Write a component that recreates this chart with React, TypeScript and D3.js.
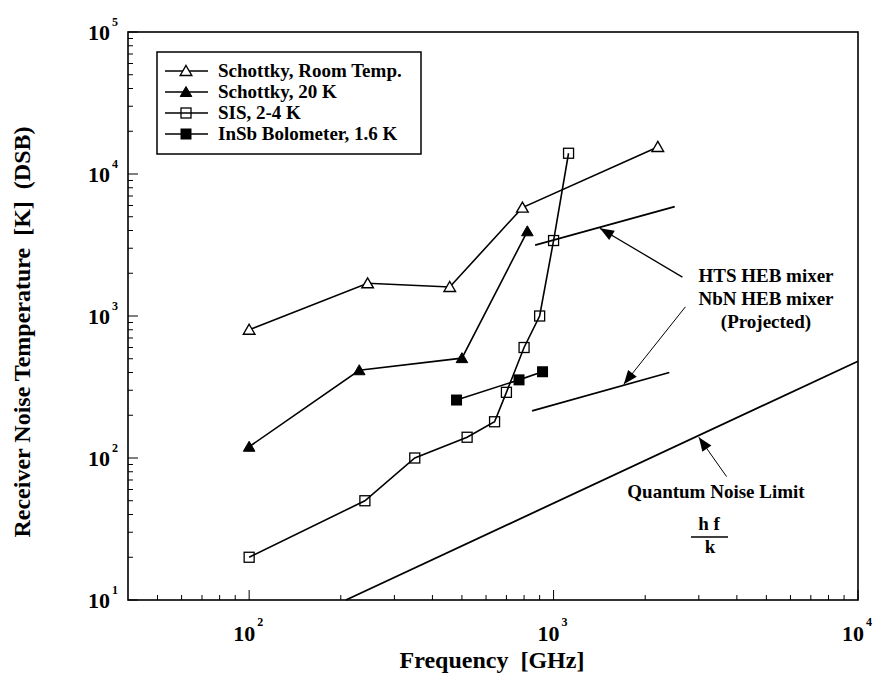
import React from 'react';
import * as d3 from 'd3';

// Schottky, room temperature (open triangles)
const roomF = [100, 245, 456, 790, 2200];
const roomT = [800, 1700, 1600, 5800, 15500];
// Schottky, 20 K (filled triangles)
const coldF = [100, 230, 500, 820];
const coldT = [120, 415, 505, 3950];
// SIS, 2-4 K (open squares)
const sisF = [100, 240, 350, 520, 640, 700, 800, 900, 1000, 1120];
const sisT = [20, 50, 100, 140, 180, 290, 600, 1000, 3400, 14000];
// InSb bolometer, 1.6 K (filled squares)
const insbF = [480, 770, 920];
const insbT = [256, 355, 405];
// projected HEB mixers and quantum limit (plain lines)
const htsF = [870, 2500];
const htsT = [3150, 5900];
const nbnF = [850, 2400];
const nbnT = [215, 400];
const quantumF = [208, 10000];
const quantumT = [10, 480];

const legendLabels = ['Schottky, Room Temp.', 'Schottky, 20 K', 'SIS, 2-4 K', 'InSb Bolometer, 1.6 K'];
const xDecades = [100, 1000, 10000];
const xExp = ['2', '3', '4'];
const yDecades = [10, 100, 1000, 10000, 100000];
const yExp = ['1', '2', '3', '4', '5'];

// annotation arrows: [fromF, fromT, toF, toT]
const arrows = [
  [2650, 1880, 1420, 4150],
  [2710, 1160, 1700, 330],
  [3700, 74, 3000, 140],
];

const FONT = '"Liberation Serif", "Times New Roman", serif';

const x = d3.scaleLog().domain([40, 10000]).range([128, 858]);
const y = d3.scaleLog().domain([10, 100000]).range([600, 32]);

const line = d3.line<[number, number]>()
  .x((d) => x(d[0]))
  .y((d) => y(d[1]));

const zip = (f: number[], t: number[]) => f.map((v, i) => [v, t[i]] as [number, number]);

const triPath = 'M0,-5.5L5.8,4.5L-5.8,4.5Z';

function Marker({ kind, cx, cy }: { kind: string; cx: number; cy: number }) {
  if (kind === 'triOpen')
    return <path d={triPath} transform={`translate(${cx},${cy})`} fill="#fff" stroke="#000" strokeWidth={1.4} />;
  if (kind === 'triFill')
    return <path d={triPath} transform={`translate(${cx},${cy})`} fill="#000" stroke="#000" strokeWidth={1} />;
  if (kind === 'sqOpen')
    return <rect x={cx - 5} y={cy - 5} width={10} height={10} fill="none" stroke="#000" strokeWidth={1.3} />;
  return <rect x={cx - 5.5} y={cy - 5.5} width={11} height={11} fill="#000" />;
}

function arrowHead(x1: number, y1: number, x2: number, y2: number, len = 14, half = 5.5) {
  const a = Math.atan2(y2 - y1, x2 - x1);
  const bx = x2 - len * Math.cos(a);
  const by = y2 - len * Math.sin(a);
  const px = -Math.sin(a) * half;
  const py = Math.cos(a) * half;
  return `M${x2},${y2}L${bx + px},${by + py}L${bx - px},${by - py}Z`;
}

const series = [
  { f: roomF, t: roomT, kind: 'triOpen' },
  { f: coldF, t: coldT, kind: 'triFill' },
  { f: sisF, t: sisT, kind: 'sqOpen' },
  { f: insbF, t: insbT, kind: 'sqFill' },
];

export default function App() {
  const [x0, x1] = x.range();
  const [y0, y1] = y.range();

  const xMinor: number[] = [];
  [10, 100, 1000].forEach((d) => {
    for (let k = 2; k <= 9; k++) {
      const v = d * k;
      if (v > 40 && v < 10000) xMinor.push(v);
    }
  });
  const yMinor: number[] = [];
  [10, 100, 1000, 10000].forEach((d) => {
    for (let k = 2; k <= 9; k++) yMinor.push(d * k);
  });

  return (
    <svg width={873} height={681} style={{ position: 'absolute', left: 0, top: 0, background: '#fff' }} fontFamily={FONT}>
      <rect x={0} y={0} width={873} height={681} fill="#fff" />

      {/* frame */}
      <rect x={x0} y={y1} width={x1 - x0} height={y0 - y1} fill="none" stroke="#000" strokeWidth={1.6} />

      {/* ticks */}
      {xMinor.map((v) => (
        <line key={'xm' + v} x1={x(v)} x2={x(v)} y1={y0} y2={y0 - 5} stroke="#000" strokeWidth={1} />
      ))}
      {xDecades.map((v) => (
        <line key={'xM' + v} x1={x(v)} x2={x(v)} y1={y0} y2={y0 - 10} stroke="#000" strokeWidth={1} />
      ))}
      {yMinor.map((v) => (
        <line key={'ym' + v} x1={x0} x2={x0 + 5} y1={y(v)} y2={y(v)} stroke="#000" strokeWidth={1} />
      ))}
      {yDecades.map((v) => (
        <line key={'yM' + v} x1={x0} x2={x0 + 10} y1={y(v)} y2={y(v)} stroke="#000" strokeWidth={1} />
      ))}

      {/* tick labels */}
      {xDecades.map((v, i) => (
        <g key={'xl' + v} fontWeight="bold">
          <text x={x(v) + 6} y={641} fontSize={22} textAnchor="end">10</text>
          <text x={x(v) + 8} y={626} fontSize={12}>{xExp[i]}</text>
        </g>
      ))}
      {yDecades.map((v, i) => (
        <g key={'yl' + v} fontWeight="bold">
          <text x={110} y={y(v) + 8} fontSize={22} textAnchor="end">10</text>
          <text x={112} y={y(v) - 6} fontSize={12}>{yExp[i]}</text>
        </g>
      ))}

      {/* axis titles */}
      <text x={492} y={668} fontSize={24} fontWeight="bold" textAnchor="middle">
        Frequency&#160;&#160;[GHz]
      </text>
      <text
        transform="translate(30,332) rotate(-90)"
        fontSize={24}
        fontWeight="bold"
        textAnchor="middle"
      >
        Receiver Noise Temperature&#160;&#160;[K]&#160;&#160;(DSB)
      </text>

      {/* plain lines */}
      {[zip(htsF, htsT), zip(nbnF, nbnT), zip(quantumF, quantumT)].map((pts, i) => (
        <path key={'pl' + i} d={line(pts) ?? ''} fill="none" stroke="#000" strokeWidth={1.8} />
      ))}

      {/* data series */}
      {series.map((s, i) => (
        <g key={'s' + i}>
          <path d={line(zip(s.f, s.t)) ?? ''} fill="none" stroke="#000" strokeWidth={1.6} />
          {s.f.map((f, j) => (
            <Marker key={j} kind={s.kind} cx={x(f)} cy={y(s.t[j])} />
          ))}
        </g>
      ))}

      {/* arrows */}
      {arrows.map((a, i) => {
        const ax1 = x(a[0]), ay1 = y(a[1]), ax2 = x(a[2]), ay2 = y(a[3]);
        return (
          <g key={'ar' + i}>
            <line x1={ax1} y1={ay1} x2={ax2} y2={ay2} stroke="#000" strokeWidth={i === 0 ? 1.3 : 1} />
            <path d={arrowHead(ax1, ay1, ax2, ay2)} fill="#000" />
          </g>
        );
      })}

      {/* annotation text */}
      <g fontWeight="bold" fontSize={19} textAnchor="middle">
        <text x={766} y={282}>HTS HEB mixer</text>
        <text x={766} y={305}>NbN HEB mixer</text>
        <text x={766} y={328}>(Projected)</text>
        <text x={716} y={498}>Quantum Noise Limit</text>
        <text x={709} y={530}>h f</text>
        <text x={710} y={553}>k</text>
      </g>
      <line x1={691} x2={728} y1={537} y2={537} stroke="#000" strokeWidth={1.3} />

      {/* legend */}
      <rect x={157} y={52} width={264} height={102} fill="#fff" stroke="#000" strokeWidth={1.5} />
      {legendLabels.map((lab, i) => {
        const ly = 71 + i * 21;
        return (
          <g key={'lg' + i}>
            <line x1={165} x2={208} y1={ly} y2={ly} stroke="#000" strokeWidth={1.6} />
            <Marker kind={series[i].kind} cx={186} cy={ly} />
            <text x={218} y={ly + 6} fontSize={19} fontWeight="bold">{lab}</text>
          </g>
        );
      })}
    </svg>
  );
}
